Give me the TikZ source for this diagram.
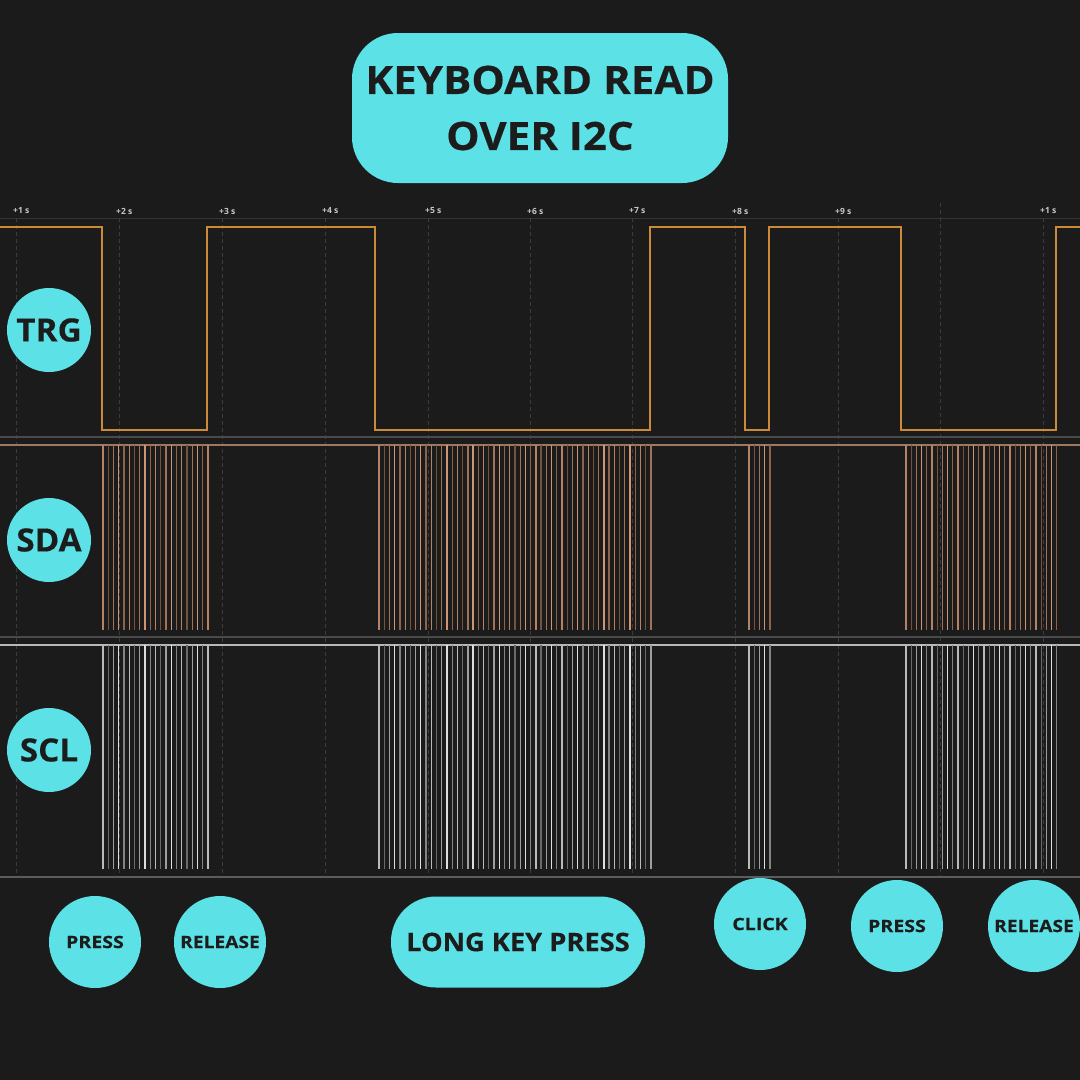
\documentclass[tikz,border=0pt]{standalone}
\usepackage{fontspec}
\setmainfont{Open Sans}
\definecolor{bg}{HTML}{1B1B1B}
\definecolor{cyanb}{HTML}{5CE1E6}
\definecolor{ink}{HTML}{1C1C1C}
\definecolor{trgc}{HTML}{CC8A38}
\definecolor{gridc}{HTML}{3C3C3C}
\definecolor{sepc}{HTML}{4A4A4A}
\definecolor{sdatop}{HTML}{A07860}
\definecolor{scltop}{HTML}{B8B8B8}
\definecolor{sda0}{HTML}{74523F}
\definecolor{sda1}{HTML}{8C634C}
\definecolor{sda2}{HTML}{A07358}
\definecolor{sda3}{HTML}{B48264}
\definecolor{sda4}{HTML}{CC9674}
\definecolor{scl0}{HTML}{6A6A6A}
\definecolor{scl1}{HTML}{848484}
\definecolor{scl2}{HTML}{9E9E9E}
\definecolor{scl3}{HTML}{BABABA}
\definecolor{scl4}{HTML}{DEDEDE}
\newcommand\sigburst[3]{%
  \foreach \i in {0,...,#2}{%
    \pgfmathsetmacro\bx{#1+\i*#3}%
    \pgfmathtruncatemacro\cc{mod(\i*7+3,5)}%
    \draw[barline, color=sda\cc] (\bx,445) -- (\bx,630);
    \draw[barline, color=scl\cc] (\bx,645) -- (\bx,869);
  }}
\begin{document}
\begin{tikzpicture}[x=1pt,y=-1pt,
  barline/.style={line width=1.3pt},
  gridline/.style={gridc, dash pattern=on 4pt off 3pt, line width=0.9pt},
  ticklbl/.style={anchor=west, inner sep=0pt, text=white!78!black, font=\fontsize{8.5}{9}\selectfont\bfseries},
  sigcircle/.style={circle, fill=cyanb, minimum size=84pt, inner sep=0pt, text=ink, font=\fontsize{32}{34}\selectfont\bfseries\addfontfeatures{FakeStretch=1.04,FakeBold=0.3}},
  evcircle/.style={circle, fill=cyanb, minimum size=92pt, inner sep=0pt, text=ink, font=\fontsize{17}{19}\selectfont\bfseries\addfontfeatures{FakeStretch=1.15,FakeBold=0.3}},
  pill/.style={rounded corners=45pt, fill=cyanb, inner sep=0pt, text=ink}]
\fill[bg] (0,0) rectangle (1080,1080);
\useasboundingbox (0,0) rectangle (1080,1080);
% title
\node[pill, rounded corners=46pt, minimum width=376pt, minimum height=150pt, align=center,
  font=\fontsize{39}{56}\selectfont\bfseries\addfontfeatures{FakeStretch=1.08,FakeBold=0.3}] (title) at (540,108) {KEYBOARD READ\\OVER I2C};
% axis
\draw[gridc!80!bg, line width=0.8pt] (0,218) -- (1080,218);
\foreach \x/\l [count=\k] in {16/+1 s,119/+2 s,222/+3 s,325/+4 s,428/+5 s,530/+6 s,632/+7 s,735/+8 s,838/+9 s,1043/+1 s}{
  \node[ticklbl] (tick\k) at (\x-3,211) {\l};
  \draw[gridline] (\x,218) -- (\x,877);
}
\draw[gridline] (940,203) -- (940,877);
% separators
\draw[sepc, line width=2.8pt] (0,437) -- (1080,437);
\draw[sepc, line width=2.8pt] (0,637) -- (1080,637);
\draw[sepc!90!white, line width=1.6pt] (0,877) -- (1080,877);
\draw[sdatop, line width=1.2pt] (0,445) -- (1080,445);
\draw[scltop, line width=1.2pt] (0,645) -- (1080,645);
% TRG waveform
\draw[trgc, line width=1.2pt] (0,227) -- (102,227) -- (102,430) -- (207,430) -- (207,227)
  -- (375,227) -- (375,430) -- (650,430) -- (650,227) -- (745,227) -- (745,430)
  -- (769,430) -- (769,227) -- (901,227) -- (901,430) -- (1056,430) -- (1056,227) -- (1080,227);
% bursts
\sigburst{103}{20}{5.25}
\sigburst{379}{52}{5.23}
\sigburst{749}{4}{5.25}
\sigburst{906}{29}{5.2}
% signal labels
\node[sigcircle] (trg) at (49,330) {TRG};
\node[sigcircle] (sda) at (49,540) {SDA};
\node[sigcircle] (scl) at (49,750) {SCL};
% event labels
\node[evcircle] (press1) at (95,942) {PRESS};
\node[evcircle, font=\fontsize{17}{19}\selectfont\bfseries\addfontfeatures{FakeStretch=1.13,FakeBold=0.3}] (release1) at (220,942) {RELEASE};
\node[pill, minimum width=254pt, minimum height=91pt, font=\fontsize{25.5}{28}\selectfont\bfseries\addfontfeatures{FakeStretch=1.07,FakeBold=0.3}] (long) at (518,942) {LONG KEY PRESS};
\node[evcircle] (click) at (760,924) {CLICK};
\node[evcircle] (press2) at (897,926) {PRESS};
\node[evcircle, font=\fontsize{17}{19}\selectfont\bfseries\addfontfeatures{FakeStretch=1.13,FakeBold=0.3}] (release2) at (1034,926) {RELEASE};
\end{tikzpicture}
\end{document}
